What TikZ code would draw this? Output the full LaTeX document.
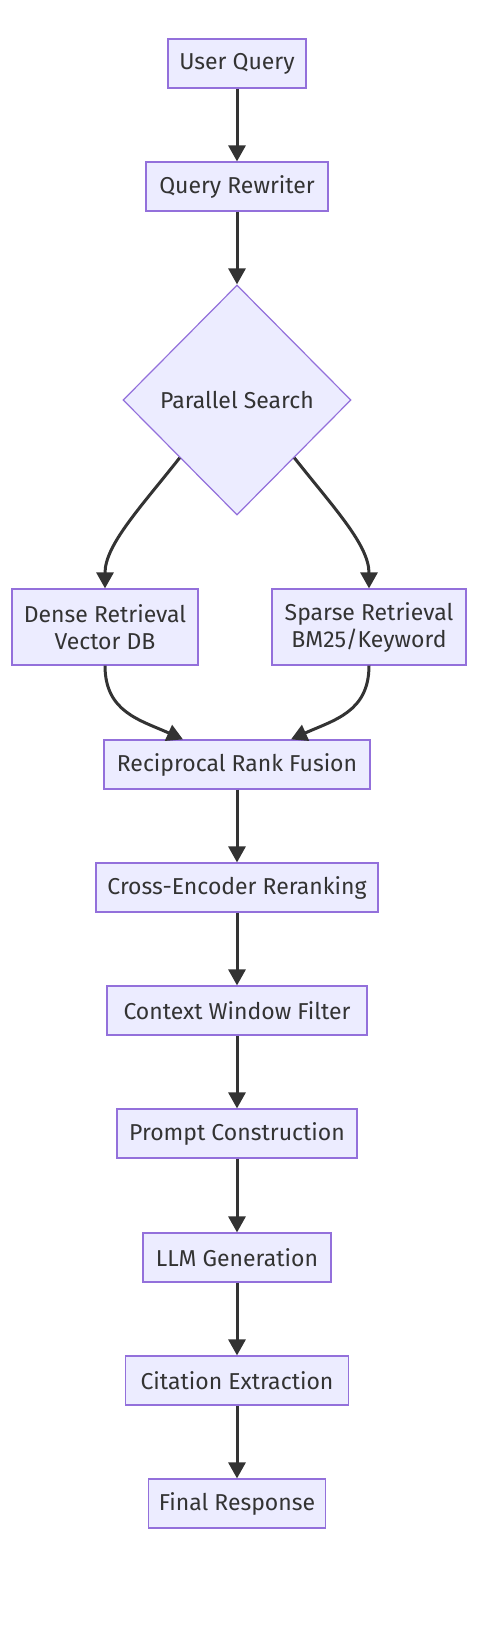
\documentclass[tikz,border=0pt]{standalone}
\usepackage{fontspec}
\setmainfont{Fira Sans}
\usepackage{xcolor}
\usetikzlibrary{arrows.meta}
\usetikzlibrary{shapes.geometric}
\definecolor{boxfill}{HTML}{ECECFF}
\definecolor{boxline}{HTML}{9370DB}
\definecolor{pfeilgrau}{HTML}{333333}
\begin{document}
\begin{tikzpicture}[x=1pt, y=-1pt, every node/.style={font=\fontsize{23}{27}\selectfont, text=pfeilgrau},
		box/.style={draw=boxline, fill=boxfill, line width=1.2pt, minimum height=49pt, inner sep=0pt, align=center},
		pfeil/.style={-{Triangle[length=16pt, width=17pt]}, line width=3pt, draw=pfeilgrau}]
		\useasboundingbox (0,0) rectangle (500,1642);
		%
		%User Query
		\node[box, minimum width=138pt] (query) at (237, 63.5) {User Query};
		%
		%Query Rewriter
		\node[box, minimum width=182pt] (rewriter) at (237, 186.5) {Query Rewriter};
		%
		%Parallel Search
		\node[box, diamond, aspect=1, minimum width=228pt, minimum height=230pt] (search) at (237, 400) {Parallel Search};
		%
		%Dense Retrieval
		\node[box, minimum width=186pt, minimum height=76pt] (dense) at (105, 627) {Dense Retrieval\\Vector DB};
		%
		%Sparse Retrieval
		\node[box, minimum width=194pt, minimum height=76pt] (sparse) at (369, 627) {Sparse Retrieval\\BM25/Keyword};
		%
		%Reciprocal Rank Fusion
		\node[box, minimum width=266pt] (fusion) at (237, 764.5) {Reciprocal Rank Fusion};
		%
		%Cross-Encoder Reranking
		\node[box, minimum width=282pt] (rerank) at (237, 887.5) {Cross-Encoder Reranking};
		%
		%Context Window Filter
		\node[box, minimum width=260pt] (filter) at (237, 1010.5) {Context Window Filter};
		%
		%Prompt Construction
		\node[box, minimum width=240pt] (prompt) at (237, 1133.5) {Prompt Construction};
		%
		%LLM Generation
		\node[box, minimum width=188pt] (llm) at (237, 1257.5) {LLM Generation};
		%
		%Citation Extraction
		\node[box, minimum width=223pt] (citation) at (237, 1380.5) {Citation Extraction};
		%
		%Final Response
		\node[box, minimum width=177pt] (final) at (237, 1503.5) {Final Response};
		%
		%Pfeile oben
		\draw[pfeil] (query.south) -- (rewriter.north);
		\draw[pfeil] (rewriter.south) -- (search.north);
		%
		%Pfeile Parallel Search - Retrieval
		\draw[pfeil] (search.south west) .. controls (140, 508) and (105, 545) .. (dense.north);
		\draw[pfeil] (search.south east) .. controls (334, 508) and (369, 545) .. (sparse.north);
		%
		%Pfeile Retrieval - Fusion
		\draw[pfeil] (dense.south) .. controls (105, 712) and (140, 720) .. ([xshift=-54pt]fusion.north);
		\draw[pfeil] (sparse.south) .. controls (369, 712) and (334, 720) .. ([xshift=54pt]fusion.north);
		%
		%Pfeile unten
		\draw[pfeil] (fusion.south) -- (rerank.north);
		\draw[pfeil] (rerank.south) -- (filter.north);
		\draw[pfeil] (filter.south) -- (prompt.north);
		\draw[pfeil] (prompt.south) -- (llm.north);
		\draw[pfeil] (llm.south) -- (citation.north);
		\draw[pfeil] (citation.south) -- (final.north);
	\end{tikzpicture}
\end{document}
